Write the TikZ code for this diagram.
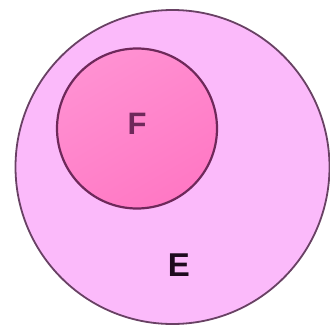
\documentclass[tikz,border=0pt]{standalone}
\usepackage{fontspec}
\setmainfont{Liberation Sans}
\definecolor{bigfill}{RGB}{251,186,250}
\definecolor{bigline}{RGB}{105,65,100}
\definecolor{smalltop}{RGB}{255,145,210}
\definecolor{smallbot}{RGB}{255,120,196}
\definecolor{smallline}{RGB}{110,40,90}
\definecolor{flabel}{RGB}{110,40,90}
\definecolor{elabel}{RGB}{30,10,30}
\begin{document}
\begin{tikzpicture}[x=1pt,y=-1pt,
  setbig/.style={circle,draw=bigline,line width=1.8pt,fill=bigfill,minimum size=314pt,inner sep=0pt},
  setsmall/.style={circle,draw=smallline,line width=2.2pt,top color=smalltop,bottom color=smallbot,shading angle=30,minimum size=160pt,inner sep=0pt},
  setlabel/.style={font=\bfseries,inner sep=0pt}]
\useasboundingbox (0,0) rectangle (329,331);
\fill[white] (0,0) rectangle (329,331);
\node[setbig] (E) at (172.5,167) {};
\node[setsmall] (F) at (137,128.5) {};
\node[setlabel,text=flabel,font=\bfseries\fontsize{31}{31}\selectfont] (Flab) at (137,123.5) {F};
\node[setlabel,text=elabel,font=\bfseries\fontsize{33}{33}\selectfont] (Elab) at (179,265) {E};
\end{tikzpicture}
\end{document}
